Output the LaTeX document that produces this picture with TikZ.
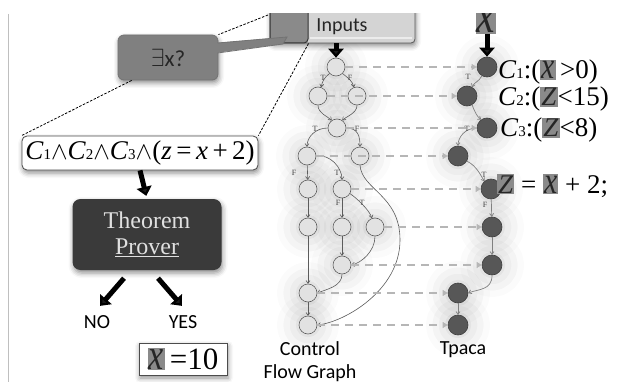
\documentclass[tikz,border=0pt]{standalone}
\usepackage{fontspec}
\usepackage{graphicx}
\setmainfont{Liberation Serif}
\newfontfamily\calib{Carlito}
\usetikzlibrary{arrows.meta,shadows.blur,calc}

\definecolor{cfgfill}{HTML}{E2E2E2}
\definecolor{cfgline}{HTML}{5C5C5C}
\definecolor{tpfill}{HTML}{575757}
\definecolor{tpline}{HTML}{3E3E3E}
\definecolor{mapgray}{HTML}{B6B6B6}
\definecolor{hlgray}{HTML}{8A8A8A}
\definecolor{provergray}{HTML}{3A3A3A}
\definecolor{calloutgray}{HTML}{808080}
\definecolor{inputsgray}{HTML}{D4D4D4}

% highlighted variables (gray box behind an italic letter)
\newcommand\hvx{{\setlength\fboxsep{1pt}\colorbox{hlgray}{\vphantom{X}\textcolor{black!85}{\scalebox{1.1}[1.4]{\textit{x}}}}}}
\newcommand\hvz{{\setlength\fboxsep{1pt}\colorbox{hlgray}{\textcolor{black!85}{\textit{Z}}}}}
% condition name with a small index on the baseline
\newcommand\Cidx[1]{\textit{C}{\fontsize{15}{15}\selectfont #1}}

\begin{document}
\begin{tikzpicture}[x=1pt,y=-1pt,
  cfg/.style={circle,draw=cfgline,fill=cfgfill,line width=0.6pt,minimum size=18pt,inner sep=0pt},
  tpn/.style={circle,draw=tpline,fill=tpfill,line width=0.6pt,minimum size=20pt,inner sep=0pt},
  halo/.style={blur shadow={shadow xshift=0pt,shadow yshift=0pt,shadow blur radius=22pt,shadow opacity=22}},
  cfgedge/.style={draw=cfgline,line width=0.6pt,-{To[length=3.5pt,width=4.5pt]}},
  tpedge/.style={draw=gray,line width=0.7pt,-{To[length=3.5pt,width=4.5pt]}},
  mapto/.style={draw=mapgray,line width=1.6pt,dash pattern=on 8pt off 6pt,-{Triangle[length=5pt,width=6pt]}},
  tf/.style={font=\fontsize{8}{8}\selectfont,text=black!75,inner sep=0pt},
  fat/.style={line width=5pt,-{Triangle[length=9pt,width=15pt]}},
  zoomline/.style={draw=black,line width=0.8pt,dash pattern=on 2.5pt off 1.5pt},
  sans/.style={font=\calib\fontsize{20}{20}\selectfont},
  serifbig/.style={font=\fontsize{27}{27}\selectfont},
  boxshadow/.style={blur shadow={shadow xshift=1pt,shadow yshift=-3pt,shadow blur radius=5pt,shadow opacity=45}}
]
\useasboundingbox (0,0) rectangle (620,382);
\clip (0,14) rectangle (620,382);

% soft glow behind both graphs
\foreach \xx/\yy in {336/67,318/96,357/96,337/128,307/156,360/156,308/189,342/189,308/227,342/227,375/227,342/265,308/293,308/325}
  \fill[white,halo] (\xx,\yy) circle (9pt);
\foreach \xx/\yy in {487/67,467/96,487/128,458/156,491/189,492/227,492/265,458/293,458/325}
  \fill[white,halo] (\xx,\yy) circle (10pt);

% control flow graph
\node[cfg] (a1) at (336,67) {};
\node[cfg] (a2) at (318,96) {};
\node[cfg] (a3) at (357,96) {};
\node[cfg] (a4) at (337,128) {};
\node[cfg] (a5) at (307,156) {};
\node[cfg] (a6) at (360,156) {};
\node[cfg] (a7) at (308,189) {};
\node[cfg] (a8) at (342,189) {};
\node[cfg] (a9) at (308,227) {};
\node[cfg] (a10) at (342,227) {};
\node[cfg] (a11) at (375,227) {};
\node[cfg] (a12) at (342,265) {};
\node[cfg] (a13) at (308,293) {};
\node[cfg] (a14) at (308,325) {};

\draw[cfgedge] (a1.225) .. controls +(-5,4) and +(1,-6) .. (a2.70);
\draw[cfgedge] (a1.315) .. controls +(5,4) and +(-1,-6) .. (a3.110);
\draw[cfgedge] (a2.south) .. controls +(0,8) and +(-4,-4) .. (a4.125);
\draw[cfgedge] (a3.south) .. controls +(0,8) and +(4,-4) .. (a4.55);
\draw[cfgedge] (a4.west) .. controls +(-12,0) and +(0,-10) .. (a5.north);
\draw[cfgedge] (a4.east) .. controls +(12,0) and +(0,-10) .. (a6.north);
\draw[cfgedge] (a5) -- (a7);
\draw[cfgedge] (a5.east) .. controls +(14,-2) and +(0,-12) .. (a8.north);
\draw[cfgedge] (a6.south) .. controls (362,190) and (400,195) .. (400,240)
                .. controls (400,290) and (345,322) .. (a14.east);
\draw[cfgedge] (a7) -- (a9);
\draw[cfgedge] (a9) -- (a13);
\draw[cfgedge] (a8) -- (a10);
\draw[cfgedge] (a8.330) .. controls +(6,4) and +(-2,-8) .. (a11.110);
\draw[cfgedge] (a10) -- (a12);
\draw[cfgedge] (a11.south) .. controls +(0,15) and +(10,-2) .. (a12.east);
\draw[cfgedge] (a12.south) .. controls +(0,12) and +(10,-4) .. (a13.east);
\draw[cfgedge] (a13) -- (a14);

\node[tf] (l1) at (323,78) {T};
\node[tf] (l2) at (350,78) {F};
\node[tf] (l3) at (315,129) {T};
\node[tf] (l4) at (357,129) {F};
\node[tf] (l5) at (294,173) {F};
\node[tf] (l6) at (337,173) {T};
\node[tf] (l7) at (338,203) {F};
\node[tf] (l8) at (362,203) {T};

% path through the program (Tpaca)
\node[tpn] (b1) at (487,67) {};
\node[tpn] (b2) at (467,96) {};
\node[tpn] (b3) at (487,128) {};
\node[tpn] (b4) at (458,156) {};
\node[tpn] (b5) at (491,189) {};
\node[tpn] (b6) at (492,227) {};
\node[tpn] (b7) at (492,265) {};
\node[tpn] (b8) at (458,293) {};
\node[tpn] (b9) at (458,325) {};

\draw[tpedge] (b1.240) .. controls +(-3,6) and +(2,-5) .. (b2.60);
\draw[tpedge] (b2.300) .. controls +(3,8) and +(-4,-3) .. (b3.125);
\draw[tpedge] (b3.west) .. controls +(-12,0) and +(0,-8) .. (b4.north);
\draw[tpedge] (b4.330) .. controls +(10,5) and +(-4,-6) .. (b5.130);
\draw[tpedge] (b5) -- (b6);
\draw[tpedge] (b6) -- (b7);
\draw[tpedge] (b7.south) .. controls +(0,15) and +(10,-4) .. (b8.east);
\draw[tpedge] (b8) -- (b9);

\node[tf] (m1) at (468,77) {T};
\node[tf] (m2) at (467,129) {T};
\node[tf] (m3) at (484,175) {T};
\node[tf] (m4) at (485,205) {F};

% correspondence between the two graphs
\draw[mapto] (a1.east) -- (b1.west);
\draw[mapto] (a2.east) -- (b2.west);
\draw[mapto] (a4.east) -- (b3.west);
\draw[mapto] (a5.east) -- (b4.west);
\draw[mapto] (a8.east) -- (b5.west);
\draw[mapto] (a11.east) -- (b6.west);
\draw[mapto] (a12.east) -- (b7.west);
\draw[mapto] (a13.east) -- (b8.west);
\draw[mapto] (a14.east) -- (b9.west);

% inputs bar
\node[draw=gray!70!black,fill=inputsgray,line width=0.8pt,rounded corners=4pt,
      minimum width=145pt,minimum height=37pt,inner sep=0,boxshadow] (inp) at (342.5,24.5) {};
\draw[white!85!gray,line width=2pt] (310,38) -- (412,38);
\node[sans,text=black!85] (inptxt) at (342,27) {Inputs};
\node[draw=black!80,fill=hlgray,line width=1pt,rounded corners=4pt,
      minimum width=38pt,minimum height=37pt,inner sep=0] (insq) at (289,24.5) {};
\draw[fat] (a1.north |- inp.south) -- (a1.north);

% input variable and path conditions
\node[font=\fontsize{38}{38}\selectfont,inner sep=0,anchor=south] (xin) at (486,34) {\hvx};
\draw[fat] (xin.south -| b1.north) -- (b1.north);
\node[anchor=base west,inner sep=0,serifbig] (c1) at (498,79) {\Cidx{1}:(\hvx\,>0)};
\node[anchor=base west,inner sep=0,serifbig] (c2) at (498,106) {\Cidx{2}:(\hvz<15)};
\node[anchor=base west,inner sep=0,serifbig] (c3) at (500,137) {\Cidx{3}:(\hvz<8)};
\node[anchor=base west,inner sep=0,serifbig] (zeq) at (497,193) {\hvz\ =\ \hvx\ +\ 2;};

% question callout
\node[rectangle,rounded corners=6pt,fill=calloutgray,draw=black!55,line width=0.8pt,
      minimum width=100pt,minimum height=45pt,boxshadow] (call) at (168,57.5) {};
\fill[calloutgray] (215,43) -- (287,37) -- (283,44) -- (215,53) -- cycle;
\draw[black!55,line width=0.8pt] (217.6,43) -- (287,37) -- (283,44) -- (217.6,53);
\node[font=\calib\fontsize{23}{23}\selectfont,text=black!85] (q) at (168,58) {{\fontsize{25}{25}\selectfont$\exists$}x?};

% path condition formula
\node[draw=black!70,fill=white,line width=0.8pt,rounded corners=5pt,minimum width=236pt,
      minimum height=34pt,inner sep=0,boxshadow,serifbig] (fbox) at (140,153)
  {\Cidx{1}$\wedge$\Cidx{2}$\wedge$\Cidx{3}$\wedge$(\textit{z}\,=\,\textit{x}\,+\,2)};

% zoom guide lines
\coordinate (sqTop) at (268,15);
\draw[zoomline] (sqTop) -- (call.north east);
\draw[zoomline] ($(call.south west)+(14,0)$) -- (fbox.north west);
\draw[zoomline] (insq.south east) -- (fbox.north east);

% solver
\node[fill=provergray,rounded corners=8pt,minimum width=149pt,minimum height=71pt,
      text=white!88!black,align=center,font=\fontsize{24}{26}\selectfont,boxshadow] (tp) at (147,234.5)
  {Theorem\\\underline{Prover}};
\draw[fat,shorten >=3pt] (fbox.south) -- (tp.north);

\node[sans] (no) at (97,322) {NO};
\node[sans] (yes) at (183,322) {YES};
\draw[fat] ($(tp.south)+(-23,8)$) -- ($(no.north)+(3,-6)$);
\draw[fat] ($(tp.south)+(11,8)$) -- ($(yes.north)+(-1,-6)$);

\node[draw=black!70,fill=white,line width=0.8pt,minimum width=88pt,minimum height=32pt,
      inner sep=0,boxshadow,font=\fontsize{31}{31}\selectfont] (res) at (183,359) {\hvx\,=10};

% captions
\node[align=center,font=\calib\fontsize{20}{23}\selectfont] (cfglbl) at (310,362) {Control\\Flow Graph};
\node[sans] (tplbl) at (463,350) {Tpaca};

% page edge
\draw[gray!50,line width=0.8pt] (8,14) -- (8,382);
\end{tikzpicture}
\end{document}
